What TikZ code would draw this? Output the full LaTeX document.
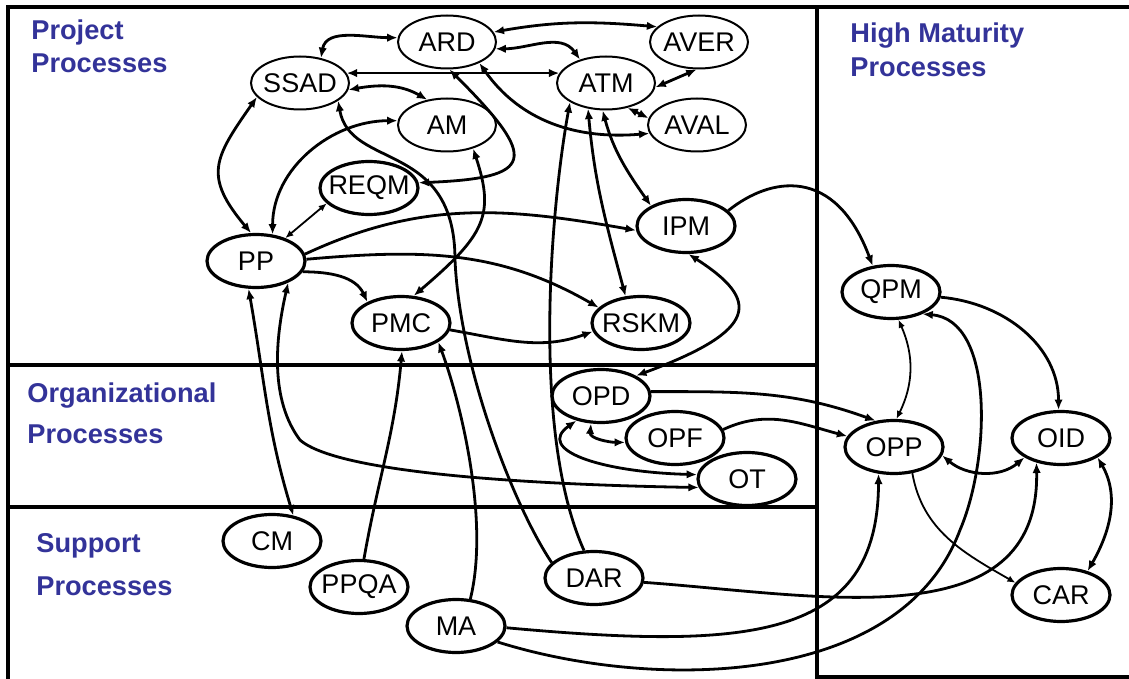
\documentclass[tikz,border=0pt]{standalone}
\usepackage{fontspec}
\setmainfont{Liberation Sans}
\usepackage{tikz}
\usepackage{xcolor}
\usetikzlibrary{shapes.geometric,arrows.meta}
\definecolor{hdrblue}{RGB}{51,51,153}
\newcommand{\procfont}{\fontsize{13.5}{16}\selectfont}
\newcommand{\hdrfont}{\fontsize{13.6}{16}\selectfont\bfseries}
\tikzstyle{proc} = [ellipse, draw, line width=1.6pt, minimum width=49pt, minimum height=26.5pt, inner sep=0pt, font=\procfont, execute at begin node={\hbox to 0pt\bgroup\hss}, execute at end node={\hss\egroup}]
\tikzstyle{eng} = [proc, line width=1pt]
\tikzstyle{hdr} = [anchor=base west, inner sep=0pt, text=hdrblue, font=\hdrfont]
\tikzstyle{frame} = [-, line width=1.8pt]
\tikzstyle{fine} = [line width=0.9pt, >={Latex[length=4pt,width=3.4pt]}]

\begin{document}
\begin{tikzpicture}[->,>={Latex[length=5.2pt,width=4.2pt]},x=0.5pt,y=0.5pt,line width=1.4pt]
  \useasboundingbox (0,0) rectangle (1129,-679);
  \draw[frame] (8,-679) -- (8,-7) -- (1129,-7);
  \draw[frame] (817,-7) -- (817,-677) -- (1129,-677);
  \draw[frame] (8,-365) -- (817,-365);
  \draw[frame] (8,-507) -- (817,-507);

  \node[hdr] (projA) at (30,-40) {Project};
  \node[hdr] (projB) at (30,-73) {Processes};
  \node[hdr] (hmA) at (849,-43) {High Maturity};
  \node[hdr] (hmB) at (849,-77) {Processes};
  \node[hdr] (orgA) at (26,-402) {Organizational};
  \node[hdr] (orgB) at (26,-443) {Processes};
  \node[hdr] (supA) at (35,-552) {Support};
  \node[hdr] (supB) at (35,-595) {Processes};

  \node[eng] (ARD) at (447,-42) {ARD};
  \node[eng] (SSAD) at (300,-83) {SSAD};
  \node[eng] (AM) at (447,-125) {AM};
  \node[eng] (AVER) at (699,-42) {AVER};
  \node[eng] (ATM) at (606,-83) {ATM};
  \node[eng] (AVAL) at (697,-125) {AVAL};
  \node[proc] (REQM) at (369,-188) {REQM};
  \node[proc] (PP) at (256,-261) {PP};
  \node[proc] (PMC) at (401,-323) {PMC};
  \node[proc] (IPM) at (686,-226) {IPM};
  \node[proc] (RSKM) at (641,-323) {RSKM};
  \node[proc] (QPM) at (891,-292) {QPM};
  \node[proc] (OPD) at (601,-396) {OPD};
  \node[proc] (OPF) at (675,-438) {OPF};
  \node[proc] (OT) at (747,-479) {OT};
  \node[proc] (OPP) at (894,-447) {OPP};
  \node[proc] (OID) at (1061,-438) {OID};
  \node[proc] (CAR) at (1061,-595) {CAR};
  \node[proc] (CM) at (272,-541) {CM};
  \node[proc] (PPQA) at (359,-587) {PPQA};
  \node[proc] (DAR) at (594,-578) {DAR};
  \node[proc] (MA) at (456,-626) {MA};

  \path (SSAD.50) edge[<->, out=80, in=180] (ARD.175);
  \path (ARD.-8) edge[<->, out=0, in=125] (ATM.138);
  \path (ARD.12) edge[<->, out=10, in=175] (AVER.160);
  \path (SSAD.12) edge[<->] (ATM.168);
  \path (SSAD.-8) edge[<->, out=10, in=150] (AM.128);
  \path (AM.175) edge[<->, out=180, in=90] (PP.58);
  \path (REQM.200) edge[<->, fine] (PP.38);
  \path (SSAD.198) edge[<->, out=235, in=130, looseness=1.4] (PP.100);
  \path (ARD.-33) edge[<->, out=-55, in=185] (AVAL.190);
  \path (ATM.-5) edge[<->] (AVER.-95);
  \path (ATM.-49) edge[<->] (AVAL.172);
  \path (ATM.-125) edge[<->, out=-85, in=105] (RSKM.120);
  \path (ATM.-97) edge[<->, out=-75, in=125] (IPM.150);
  \path (PP.-13) edge[out=0, in=115] (PMC.148);
  \path (PP.8) edge[out=25, in=170] (IPM.185);
  \path (PP.2) edge[out=5, in=150] (RSKM.160);
  \path (PMC.-8) edge[out=-10, in=200] (RSKM.190);
  \path (QPM.-75) edge[<->, fine, bend left=25] (OPP.85);
  \path (QPM.-6) edge[out=-5, in=90] (OID.95);
  \path (OPP.-10) edge[<->, out=-40, in=-140] (OID.-152);
  \path (OID.-28) edge[<->, out=-60, in=60] (CAR.42);
  \path (OPP.-55) edge[fine, out=-80, in=150] (CAR.165);
  \path (OPD.5) edge[out=0, in=160] (OPP.125);
  \path (OPF.10) edge[out=25, in=165] (OPP.167);
  \path (OPD.-110) edge[<->, out=-95, in=180] (OPF.185);
  \path (PP.-105) edge[<->, out=-80, in=107] (CM.50);
  \path (PPQA.80) edge[out=80, in=-95] (PMC.-88);

  \draw[<->] (ARD.-85) .. controls (540,-160) and (535,-178) .. (REQM.6);
  \draw[<->] (AM.-42) .. controls (495,-215) and (485,-235) .. (PMC.65);
  \draw[->] (MA.62) .. controls (490,-520) and (460,-400) .. (PMC.-27);
  \draw[->] (DAR.110) .. controls (530,-430) and (552,-200) .. (ATM.-152);
  \draw[->] (DAR.160) .. controls (515,-508) and (460,-370) .. (455,-260)
    .. controls (455,-140) and (350,-170) .. (SSAD.-25);
  \draw[->] (IPM.20) .. controls (770,-177) and (835,-165) .. (QPM.125);
  \draw[<->] (IPM.-85) .. controls (760,-300) and (760,-330) .. (OPD.30);
  \draw[->] (MA.-21) .. controls (650,-690) and (900,-690) .. (960,-530)
    .. controls (990,-460) and (995,-320) .. (QPM.-35);
  \draw[->] (MA.-2) .. controls (750,-650) and (878,-640) .. (OPP.-120);
  \draw[->] (DAR.-5) .. controls (820,-595) and (1040,-640) .. (OID.-135);
  \draw[<->] (OPD.-135) .. controls (535,-450) and (600,-472) .. (OT.175);
  \draw[<->] (PP.-34) .. controls (275,-340) and (270,-400) .. (300,-440)
    .. controls (340,-475) and (550,-485) .. (OT.190);
\end{tikzpicture}
\end{document}
